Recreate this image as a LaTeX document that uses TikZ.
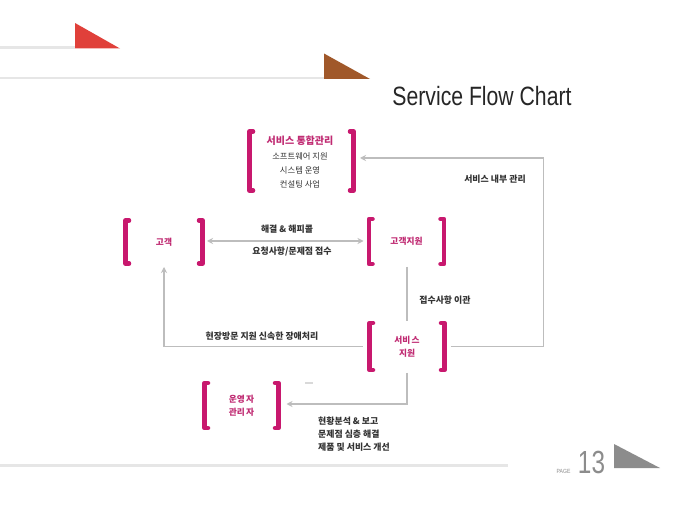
\documentclass[tikz,border=0pt]{standalone}
\usepackage{fontspec}
\usepackage{graphicx}
\setmainfont{Liberation Sans}
\newfontfamily\kr{Noto Sans CJK KR}
\usetikzlibrary{arrows.meta,calc}
\definecolor{mag}{HTML}{C8186E}
\definecolor{magtxt}{HTML}{C02A72}
\definecolor{dark}{HTML}{333333}
\definecolor{conn}{HTML}{BDBDBD}
\definecolor{rule}{HTML}{E6E6E6}
\definecolor{redtri}{HTML}{E0403A}
\definecolor{browntri}{HTML}{A0582A}
\definecolor{graytri}{HTML}{8C8C8C}
\begin{document}
\begin{tikzpicture}[x=1pt,y=-1pt,
  bbox/.style={inner sep=0pt, outer sep=0pt, minimum width=75pt, minimum height=45pt,
    align=center, text=magtxt, font=\kr\bfseries\fontsize{8.7}{13}\selectfont},
  brkline/.style={draw=mag, line width=4.5pt, line cap=round, line join=round},
  lbl/.style={inner sep=0pt, text=dark, font=\kr\bfseries\fontsize{8.9}{10}\selectfont},
  subtxt/.style={inner sep=0pt, text=dark, font=\kr\fontsize{8.3}{10}\selectfont},
  cline/.style={draw=conn, line width=1.1pt},
  arr/.style={cline, -{Stealth[length=6pt,width=6pt,inset=2pt]}},
  rulel/.style={draw=rule, line width=2.5pt}
]
\useasboundingbox[fill=white] (0,0) rectangle (680,510);

% decorative header
\draw[rulel] (0,47.5) -- (75,47.5);
\fill[redtri] (75,23) -- (75,48.5) -- (120,48.5) -- cycle;
\draw[rulel] (0,78) -- (324,78);
\fill[browntri] (324,53.5) -- (324,79) -- (370,79) -- cycle;
\node[anchor=base, inner sep=0pt, text=black!85, font=\fontsize{26.5}{30}\selectfont] (title) at (482,106) {\scalebox{0.8}[1]{Service Flow Chart}};

% footer
\draw[rulel] (0,465.5) -- (508,465.5);
\node[anchor=base, inner sep=0pt, text=black!45, font=\fontsize{6}{7}\selectfont] (pagelbl) at (563.5,473) {\scalebox{0.85}[1]{PAGE}};
\node[anchor=base, inner sep=0pt, text=black!45, font=\fontsize{32}{34}\selectfont] (pagenum) at (591.5,473) {\scalebox{0.76}[1]{13}};
\fill[graytri] (614,444) -- (614,468) -- (660,468) -- cycle;

% bracket boxes
\node[bbox, minimum width=104pt, minimum height=59pt] (sint) at (301.5,161) {};
\node[bbox, minimum width=77pt, minimum height=43pt] (cust) at (164,242) {고객};
\node[bbox, minimum width=75pt, minimum height=45pt] (csup) at (406.5,241.5) {고객지원};
\node[bbox, minimum width=75pt, minimum height=47pt] (ssup) at (407,346.5) {서비\,스\\지원};
\node[bbox, minimum width=74pt, minimum height=45pt] (oper) at (241.5,405.5) {운영\,자\\관리\,자};

\foreach \n in {sint,cust,csup,ssup,oper}{
  \draw[brkline] ($(\n.north west)+(3.5,0)$) -- (\n.north west) -- (\n.south west) -- ($(\n.south west)+(3.5,0)$);
  \draw[brkline] ($(\n.north east)+(-3.5,0)$) -- (\n.north east) -- (\n.south east) -- ($(\n.south east)+(-3.5,0)$);
}

% texts of the integrated-management box
\node[inner sep=0pt, text=magtxt, font=\kr\bfseries\fontsize{10}{11}\selectfont] (sintt) at (300,141) {서비스 통합관리};
\node[subtxt] (s1) at (300,156) {소프트웨어 지원};
\node[subtxt] (s2) at (300,170) {시스템 운영};
\node[subtxt] (s3) at (300,184) {컨설팅 사업};

% connectors
\draw[cline, {Stealth[length=6pt,width=6pt,inset=2pt]}-{Stealth[length=6pt,width=6pt,inset=2pt]}]
  ([xshift=4.5pt]cust.east |- 0,241) -- ([xshift=-5.5pt]csup.west |- 0,241);
\node[lbl] (l1) at (287,229) {해결 \& 해피콜};
\node[lbl] (l2) at (292,251.5) {요청사항/문제점 접수};

\draw[cline] ([yshift=-3pt]ssup.north |- csup.south) -- ([yshift=2pt]ssup.north);
\node[lbl] (l3) at (445,300) {접수사항 이관};

\draw[arr] ([xshift=-7pt]ssup.west) -| ([yshift=-3.5pt]cust.south);
\node[lbl] (l4) at (262,336.5) {현장방문 지원 신속한 장애처리};

\coordinate (rc) at (543.5,158);
\draw[arr] ([xshift=6pt]ssup.east) -| (rc) -- ([xshift=6.5pt]sint.east |- rc);
\node[lbl] (l5) at (495,179) {서비스 내부 관리};

\draw[arr] ([yshift=-3pt]ssup.south) |- ([xshift=8pt]oper.east |- 0,404);
\draw[draw=black!15, line width=1.3pt] (305,383) -- (313,383);

\node[lbl, anchor=west] (b1) at (318,421.5) {현황분석 \& 보고};
\node[lbl, anchor=west] (b2) at (318,434.5) {문제점 심층 해결};
\node[lbl, anchor=west] (b3) at (318,447.5) {제품 및 서비스 개선};
\end{tikzpicture}
\end{document}
